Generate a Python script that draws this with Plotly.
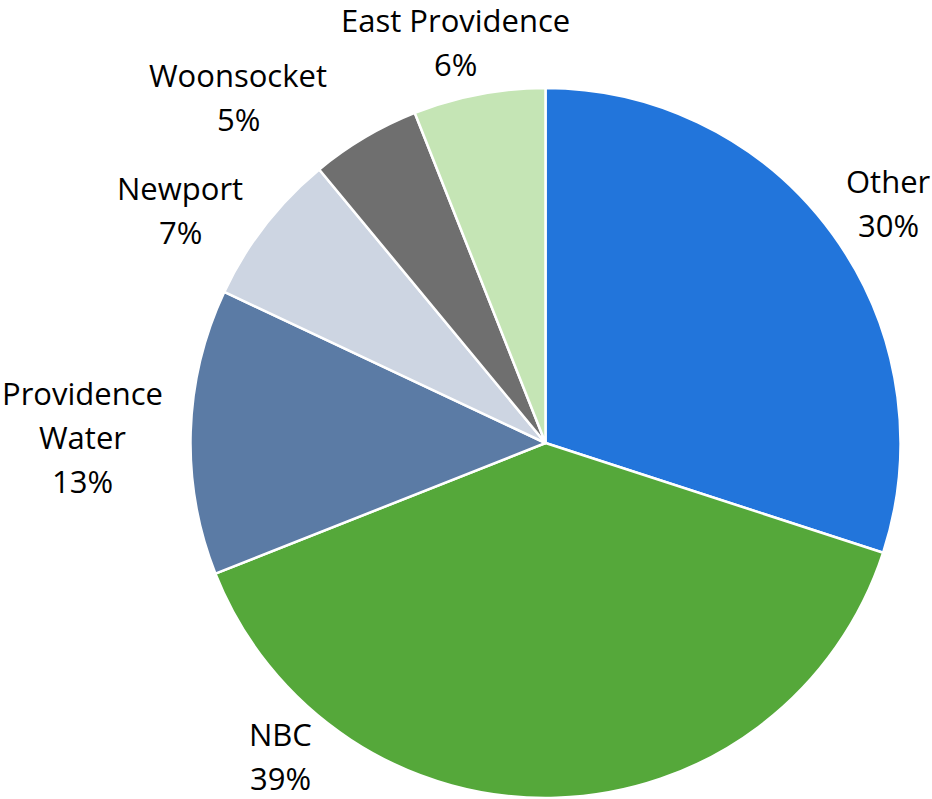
import plotly.graph_objects as go

labels = ["Other", "NBC", "Providence Water", "Newport", "Woonsocket", "East Providence"]
label_lines = [["Other"], ["NBC"], ["Providence", "Water"], ["Newport"], ["Woonsocket"], ["East Providence"]]
values = [30, 39, 13, 7, 5, 6]

# styling (not data)
colors = ["#2275db", "#55a83a", "#5b7ba5", "#cdd5e2", "#6f6f6f", "#c5e5b5"]
W, H = 932, 799
# label group centres in pixels (text placement, as in the reference)
label_pos_px = [(888, 203), (280, 756), (82, 437), (180, 210), (238, 97), (455, 42)]
line_gap = 44
font = dict(family="Open Sans, Liberation Sans, sans-serif", size=31, color="#000000")

fig = go.Figure(go.Pie(
    labels=labels,
    values=values,
    textinfo="none",
    marker=dict(colors=colors, line=dict(color="#ffffff", width=2.5)),
    sort=False,
    direction="clockwise",
    rotation=0,
    showlegend=False,
    hoverinfo="label+percent",
    domain=dict(x=[190 / W, 901 / W], y=[1 - 798 / H, 1 - 88 / H]),
))

total = sum(values)
annotations = []
for lines, v, (px, py) in zip(label_lines, values, label_pos_px):
    all_lines = lines + [f"{round(100 * v / total)}%"]
    n = len(all_lines)
    for i, t in enumerate(all_lines):
        y_px = py + (i - (n - 1) / 2) * line_gap
        annotations.append(dict(
            text=t, x=px / W, y=1 - y_px / H, xref="paper", yref="paper",
            xanchor="center", yanchor="middle", showarrow=False, font=font,
            borderpad=0,
        ))

fig.update_layout(
    width=W, height=H,
    margin=dict(l=0, r=0, t=0, b=0),
    paper_bgcolor="#ffffff",
    plot_bgcolor="#ffffff",
    showlegend=False,
    annotations=annotations,
)

fig.write_html(
    "out.html",
    config={"displayModeBar": False},
    post_script="document.body.style.margin='0';document.body.style.overflow='hidden';",
)
